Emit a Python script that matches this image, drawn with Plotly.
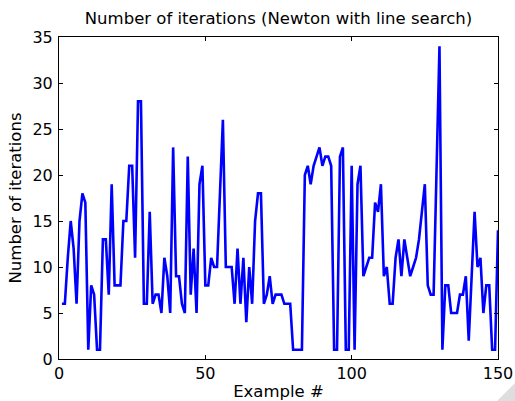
import plotly.graph_objects as go

# Iteration counts per test example (Newton's method with line search)
example_ids = list(range(1, 151))
iterations = [
    6, 6, 11, 15, 12, 6, 15, 18, 17, 1,
    8, 7, 1, 1, 13, 13, 7, 19, 8, 8,
    8, 15, 15, 21, 21, 11, 28, 28, 6, 6,
    16, 6, 7, 7, 5, 11, 9, 5, 23, 9,
    9, 6, 5, 22, 7, 12, 5, 19, 21, 8,
    8, 11, 10, 10, 18, 26, 10, 10, 10, 6,
    12, 6, 11, 4, 10, 6, 15, 18, 18, 6,
    7, 9, 6, 7, 7, 7, 6, 6, 6, 1,
    1, 1, 1, 20, 21, 19, 21, 22, 23, 21,
    22, 22, 21, 1, 1, 22, 23, 1, 1, 21,
    1, 19, 21, 9, 10, 11, 11, 17, 16, 19,
    9, 10, 6, 6, 11, 13, 9, 13, 11, 9,
    10, 11, 13, 16, 19, 8, 7, 7, 20, 34,
    1, 8, 8, 5, 5, 5, 7, 7, 9, 2,
    9, 16, 10, 11, 5, 8, 8, 1, 1, 14,
]

x_ticks = [0, 50, 100, 150]
y_ticks = [0, 5, 10, 15, 20, 25, 30, 35]

FONT = "DejaVu Sans"

fig = go.Figure()
fig.add_trace(go.Scatter(
    x=example_ids,
    y=iterations,
    mode="lines",
    line=dict(color="#0000FF", width=2.6),
    showlegend=False,
    hoverinfo="x+y",
))

axis_common = dict(
    showgrid=False,
    zeroline=False,
    showline=True,
    linecolor="black",
    linewidth=1,
    mirror="ticks",
    ticks="inside",
    ticklen=4,
    tickcolor="black",
    tickwidth=1,
    tickfont=dict(family=FONT, size=16, color="black"),
)

fig.update_xaxes(
    range=[0, 150],
    tickvals=x_ticks,
    ticktext=[str(v) for v in x_ticks],
    title=dict(text="Example #", font=dict(family=FONT, size=16.5, color="black"), standoff=7),
    ticklabelstandoff=0,
    **axis_common,
)
fig.update_yaxes(
    range=[0, 35],
    tickvals=y_ticks,
    ticktext=[str(v) for v in y_ticks],
    title=dict(text="Number of iterations", font=dict(family=FONT, size=16.5, color="black"), standoff=6),
    ticklabelstandoff=2,
    **axis_common,
)

fig.update_layout(
    width=515,
    height=401,
    margin=dict(l=59, r=17, t=37, b=42, autoexpand=False),
    paper_bgcolor="white",
    plot_bgcolor="white",
    title=dict(
        text="Number of iterations (Newton with line search)",
        font=dict(family=FONT, size=16.5, color="black"),
        x=0.5,
        xref="paper",
        xanchor="center",
        y=1 - 18 / 401,
        yref="container",
        yanchor="middle",
    ),
    shapes=[
        dict(
            type="path",
            xref="paper",
            yref="paper",
            path="M 0.9977 -0.1304 L 1.0387 -0.0745 L 1.0387 -0.1304 Z",
            fillcolor="#dedede",
            line=dict(width=0),
            layer="above",
        )
    ],
)

fig.write_html("out.html")
